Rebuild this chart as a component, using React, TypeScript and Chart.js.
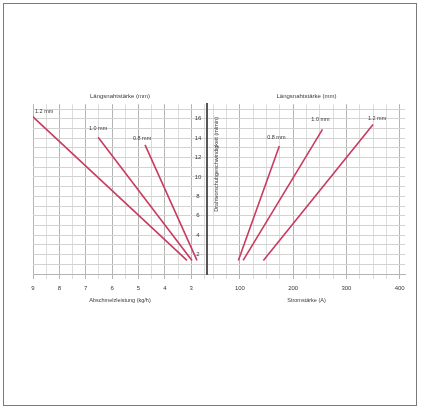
import React, { useEffect, useRef } from "react";
import { Chart, registerables } from "chart.js";

Chart.register(...registerables);

// ---- data ----
const leftTitle = "Längsnahtstärke (mm)";
const rightTitle = "Längsnahtstärke (mm)";
const leftAxisTitle = "Abschmelzleistung (kg/h)";
const rightAxisTitle = "Stromstärke (A)";
const feedAxisTitle = "Drahtvorschubgeschwindigkeit (m/min)";

const leftWires = ["1.2 mm", "1.0 mm", "0.8 mm"];
const leftRateTop = [9.0, 6.53, 4.75];
const leftFeedTop = [16.2, 14.1, 13.3];
const leftRateBottom = [3.16, 2.97, 2.78];
const leftFeedBottom = [1.4, 1.4, 1.4];

const rightWires = ["0.8 mm", "1.0 mm", "1.2 mm"];
const rightCurrentBottom = [97, 106, 144];
const rightFeedBottom = [1.4, 1.4, 1.4];
const rightCurrentTop = [174, 255, 350];
const rightFeedTop = [13.2, 14.9, 15.4];

const rateTicks = [3, 4, 5, 6, 7, 8, 9];
const currentTicks = [100, 200, 300, 400];
const feedTicks = [2, 4, 6, 8, 10, 12, 14, 16];

const LINE = "#c83a5e";
const FONT = "'Liberation Sans', Arial, sans-serif";
const TXT = "#3a3a3a";

function labelPlugin(topIndex: number, offsets: [number, number, CanvasTextAlign][], names: string[]) {
  return {
    id: "lineLabels",
    afterDatasetsDraw(chart: any) {
      const ctx = chart.ctx;
      ctx.save();
      ctx.font = `5.5px ${FONT}`;
      ctx.fillStyle = TXT;
      ctx.textBaseline = "middle";
      chart.data.datasets.forEach((_: any, i: number) => {
        const p = chart.getDatasetMeta(i).data[topIndex];
        const [dx, dy, al] = offsets[i];
        ctx.textAlign = al;
        ctx.fillText(names[i], p.x + dx, p.y + dy);
      });
      ctx.restore();
    },
  };
}

// feed tick labels drawn inside the left plot next to the centre axis
const feedLabelPlugin = {
  id: "feedLabels",
  afterDraw(chart: any) {
    const ctx = chart.ctx;
    const ys = chart.scales.y;
    ctx.save();
    ctx.font = `6px ${FONT}`;
    ctx.fillStyle = TXT;
    ctx.textAlign = "center";
    ctx.textBaseline = "middle";
    feedTicks.forEach((v) => {
      ctx.fillText(String(v), chart.chartArea.right - 9, ys.getPixelForValue(v));
    });
    ctx.restore();
  },
};

// rotated feed axis title just right of the centre axis
const feedTitlePlugin = {
  id: "feedTitle",
  afterDraw(chart: any) {
    const ctx = chart.ctx;
    const ys = chart.scales.y;
    ctx.save();
    ctx.font = `5.5px ${FONT}`;
    ctx.fillStyle = TXT;
    ctx.textAlign = "center";
    ctx.textBaseline = "middle";
    ctx.translate(chart.chartArea.left + 8, ys.getPixelForValue(11.3));
    ctx.rotate(-Math.PI / 2);
    ctx.fillText(feedAxisTitle, 0, 0);
    ctx.restore();
  },
};

export default function App() {
  const leftRef = useRef<HTMLCanvasElement>(null);
  const rightRef = useRef<HTMLCanvasElement>(null);

  useEffect(() => {
    const hGrid = "#d2d2d2";
    const titleFont = { size: 6, family: FONT, weight: "normal" as const };
    const leftChart = new Chart(leftRef.current!, {
      type: "line",
      data: {
        datasets: leftWires.map((w, i) => ({
          label: w,
          data: [
            { x: leftRateTop[i], y: leftFeedTop[i] },
            { x: leftRateBottom[i], y: leftFeedBottom[i] },
          ],
          borderColor: LINE,
          borderWidth: 1.6,
          pointRadius: 0,
          fill: false,
        })),
      },
      options: {
        responsive: false,
        animation: false,
        layout: { padding: { left: 33, right: 0, top: 0, bottom: 0 } },
        plugins: {
          legend: { display: false },
          tooltip: { enabled: false },
          title: {
            display: true,
            text: leftTitle,
            fullSize: false,
            color: TXT,
            font: titleFont,
            padding: { top: 7, bottom: 4 },
          },
        },
        scales: {
          x: {
            type: "linear",
            reverse: true,
            min: 2.4,
            max: 9,
            afterFit: (s: any) => { s.height = 34; },
            afterBuildTicks: (s: any) => {
              const t: any[] = [];
              for (let v = 2.5; v <= 9.001; v += 0.5) t.push({ value: Math.round(v * 10) / 10 });
              s.ticks = t;
            },
            ticks: {
              autoSkip: false,
              maxRotation: 0,
              padding: 6,
              color: TXT,
              font: { size: 6, family: FONT },
              callback: (v: any) => (rateTicks.includes(Number(v)) ? String(v) : ""),
            },
            grid: {
              tickLength: 5,
              color: (c: any) => (Number.isInteger(c.tick?.value) ? "#b4b4b4" : "#dcdcdc"),
            },
            border: { color: "#b4b4b4" },
            title: {
              display: true,
              text: leftAxisTitle,
              color: TXT,
              font: { size: 5.5, family: FONT },
              padding: { top: 0, bottom: 4.5 },
            },
          },
          y: {
            type: "linear",
            position: "right",
            min: 0,
            max: 17.5,
            afterFit: (s: any) => { s.width = 2; },
            afterBuildTicks: (s: any) => {
              const t: any[] = [];
              for (let v = 0; v <= 17; v += 1) t.push({ value: v });
              s.ticks = t;
            },
            ticks: { display: false },
            grid: { drawTicks: false, color: hGrid },
            border: { display: true, color: "#555", width: 2 },
          },
        },
      },
      plugins: [
        labelPlugin(0, [[2, -5, "left"], [0, -9, "center"], [-3, -6, "center"]], leftWires),
        feedLabelPlugin,
      ],
    } as any);

    const rightChart = new Chart(rightRef.current!, {
      type: "line",
      data: {
        datasets: rightWires.map((w, i) => ({
          label: w,
          data: [
            { x: rightCurrentBottom[i], y: rightFeedBottom[i] },
            { x: rightCurrentTop[i], y: rightFeedTop[i] },
          ],
          borderColor: LINE,
          borderWidth: 1.6,
          pointRadius: 0,
          fill: false,
        })),
      },
      options: {
        responsive: false,
        animation: false,
        layout: { padding: { left: 1, right: 14, top: 0, bottom: 0 } },
        plugins: {
          legend: { display: false },
          tooltip: { enabled: false },
          title: {
            display: true,
            text: rightTitle,
            fullSize: false,
            color: TXT,
            font: titleFont,
            padding: { top: 7, bottom: 4 },
          },
        },
        scales: {
          x: {
            type: "linear",
            min: 40,
            max: 410,
            afterFit: (s: any) => { s.height = 34; },
            afterBuildTicks: (s: any) => {
              const t: any[] = [];
              for (let v = 50; v <= 400; v += 25) t.push({ value: v });
              s.ticks = t;
            },
            ticks: {
              autoSkip: false,
              maxRotation: 0,
              padding: 6,
              color: TXT,
              font: { size: 6, family: FONT },
              callback: (v: any) => (currentTicks.includes(Number(v)) ? String(v) : ""),
            },
            grid: {
              tickLength: 5,
              color: (c: any) => (c.tick && c.tick.value % 100 === 0 ? "#b4b4b4" : "#dcdcdc"),
            },
            border: { color: "#b4b4b4" },
            title: {
              display: true,
              text: rightAxisTitle,
              color: TXT,
              font: { size: 5.5, family: FONT },
              padding: { top: 0, bottom: 4.5 },
            },
          },
          y: {
            type: "linear",
            position: "left",
            min: 0,
            max: 17.5,
            afterFit: (s: any) => { s.width = 0; },
            afterBuildTicks: (s: any) => {
              const t: any[] = [];
              for (let v = 0; v <= 17; v += 1) t.push({ value: v });
              s.ticks = t;
            },
            ticks: { display: false },
            grid: { drawTicks: false, color: hGrid },
            border: { display: false },
          },
        },
      },
      plugins: [
        labelPlugin(1, [[-3, -8, "center"], [-2, -10, "center"], [4, -6, "center"]], rightWires),
        feedTitlePlugin,
      ],
    } as any);

    return () => {
      leftChart.destroy();
      rightChart.destroy();
    };
  }, []);

  return (
    <div style={{ position: "fixed", left: 0, top: 0, width: 421, height: 409, background: "#fff" }}>
      <div
        style={{
          position: "absolute",
          left: 3,
          top: 3,
          width: 414,
          height: 403,
          border: "1px solid #7a7a7a",
          boxSizing: "border-box",
        }}
      />
      <canvas
        ref={leftRef}
        width={209}
        height={222}
        style={{ position: "absolute", left: 0, top: 86, width: 209, height: 222 }}
      />
      <canvas
        ref={rightRef}
        width={212}
        height={222}
        style={{ position: "absolute", left: 207, top: 86, width: 212, height: 222 }}
      />
    </div>
  );
}
